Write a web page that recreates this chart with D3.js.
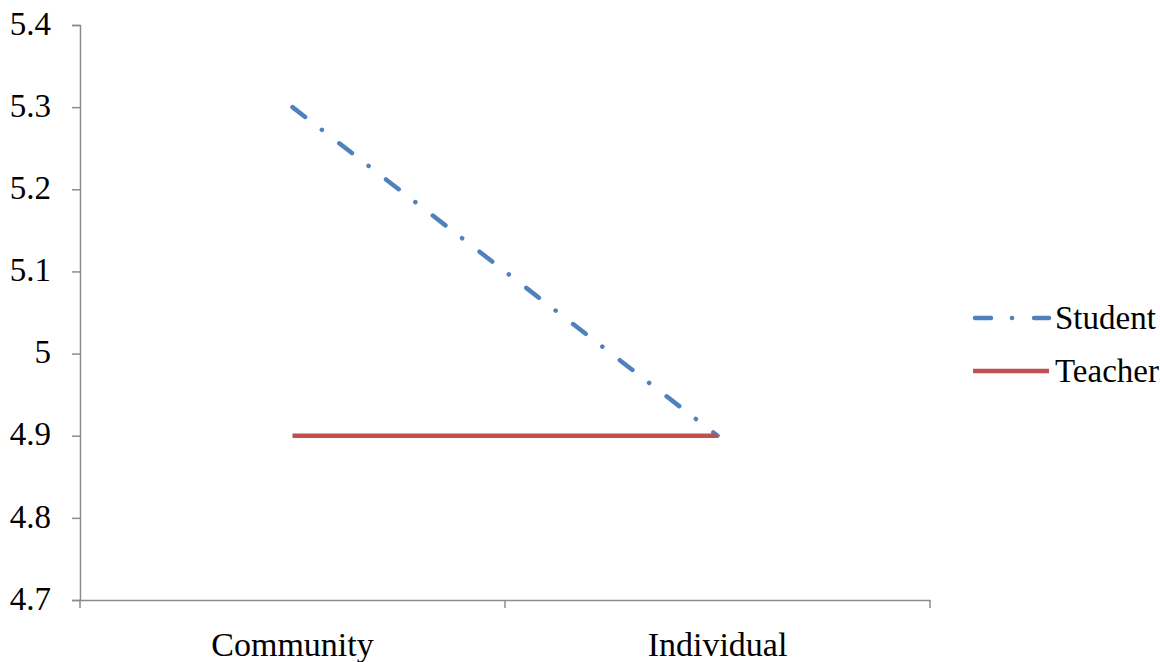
<!DOCTYPE html>
<html>
<head>
<meta charset="utf-8">
<script src="https://cdn.jsdelivr.net/npm/d3@7"></script>
<style>
  body { margin: 0; background: #fff; }
  svg { display: block; }
</style>
</head>
<body>
<svg width="1160" height="662"></svg>
<script>
// donnees du graphique
var categories = ["Community", "Individual"];
var seriesNames = ["Student", "Teacher"];
var studentValues = [5.3, 4.9];
var teacherValues = [4.9, 4.9];
var yTicks = [4.7, 4.8, 4.9, 5, 5.1, 5.2, 5.3, 5.4];
var colors = ["#4f81bd", "#c0504d"];

var fontSerif = "'Liberation Serif'";
var axisColor = "#8c8c8c";

var svg = d3.select("svg");

var x = d3.scaleBand()
    .domain(categories)
    .range([80, 930]);

var y = d3.scaleLinear()
    .domain([4.7, 5.4])
    .range([600, 25]);

// axe y
var yAxis = svg.append("g")
    .attr("transform", "translate(80,0)")
    .call(d3.axisLeft(y).tickValues(yTicks).tickSize(8).tickPadding(21)
	  .tickFormat(function(d) { return String(+d.toFixed(1)); }));
yAxis.attr("font-family", null);
yAxis.select(".domain").attr("stroke", axisColor).attr("stroke-width", 1.5);
yAxis.selectAll(".tick line").attr("stroke", axisColor).attr("stroke-width", 1.5);
yAxis.selectAll(".tick text")
    .attr("dy", "0.28em")
    .attr("font-size", 33)
    .style("font-family", fontSerif)
    .attr("fill", "#000");

// axe x
var xAxis = svg.append("g")
    .attr("transform", "translate(0,600)")
    .call(d3.axisBottom(x).tickSize(0).tickPadding(0));
xAxis.attr("font-family", null);
xAxis.select(".domain").attr("stroke", axisColor).attr("stroke-width", 1.5);
xAxis.selectAll(".tick text")
    .attr("dy", null)
    .attr("y", 56)
    .attr("font-size", 34)
    .style("font-family", fontSerif)
    .attr("fill", "#000");

// ticks entre les categories
var bounds = [80].concat(categories.map(function(c) { return x(c) + x.bandwidth(); }));
svg.append("g")
    .selectAll("line")
    .data(bounds)
    .enter()
    .append("line")
    .attr("x1", function(d) { return d; })
    .attr("x2", function(d) { return d; })
    .attr("y1", 600)
    .attr("y2", 608)
    .attr("stroke", axisColor)
    .attr("stroke-width", 1.5);

var series = [
    { name: seriesNames[0], values: studentValues, color: colors[0], dash: "16,21,0.1,22" },
    { name: seriesNames[1], values: teacherValues, color: colors[1], dash: null }
];

var line = d3.line()
    .x(function(d, i) { return x(categories[i]) + x.bandwidth() / 2; })
    .y(function(d) { return y(d); });

svg.append("g")
    .selectAll("path")
    .data(series)
    .enter()
    .append("path")
    .attr("d", function(d) { return line(d.values); })
    .attr("fill", "none")
    .attr("stroke", function(d) { return d.color; })
    .attr("stroke-width", 4.5)
    .attr("stroke-linecap", function(d) { return d.dash ? "round" : "butt"; })
    .attr("stroke-dasharray", function(d) { return d.dash; });

// legende
var legend = svg.append("g")
    .selectAll("g")
    .data(series)
    .enter()
    .append("g")
    .attr("transform", function(d, i) { return "translate(973," + (318 + i * 53) + ")"; });

legend.append("line")
    .attr("x1", function(d) { return d.dash ? 2 : 0; })
    .attr("x2", 76)
    .attr("stroke", function(d) { return d.color; })
    .attr("stroke-width", 4.5)
    .attr("stroke-linecap", function(d) { return d.dash ? "round" : "butt"; })
    .attr("stroke-dasharray", function(d) { return d.dash; });

legend.append("text")
    .attr("x", 82)
    .attr("y", 11)
    .attr("font-size", 33)
    .style("font-family", fontSerif)
    .text(function(d) { return d.name; });
</script>
</body>
</html>
